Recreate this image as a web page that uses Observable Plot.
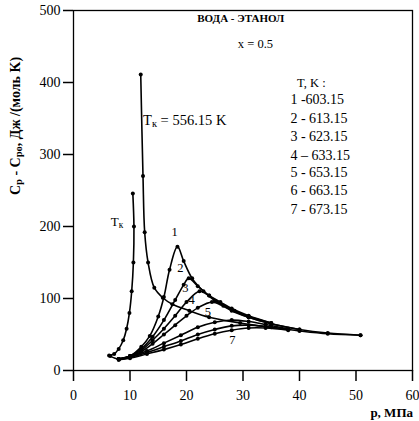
<!DOCTYPE html>
<html>
<head>
<meta charset="utf-8">
<script src="https://cdn.jsdelivr.net/npm/d3@7"></script>
<script src="https://cdn.jsdelivr.net/npm/@observablehq/plot@0.6"></script>
<style>
  html, body { margin: 0; padding: 0; background: #fff; }
  svg { font-family: "Liberation Serif", "Times New Roman", serif; }
</style>
</head>
<body>
<div id="chart"></div>
<script>
// ---- data (p in MPa, Cp - Cpo in J/(mol K)) ----
const xTicks = [0, 10, 20, 30, 40, 50, 60];
const yTicks = [0, 100, 200, 300, 400, 500];

const tkLeftP = [6.3, 7.2, 8.0, 8.8, 9.4, 9.9, 10.3, 10.6, 10.7, 10.5];
const tkLeftC = [21, 23, 30, 42, 58, 80, 110, 150, 200, 246];

const tkRightP = [11.9, 12.3, 12.6, 13.2, 14.3, 15.8, 17.5, 20.5, 24, 29.5, 35, 40, 45, 50.8];
const tkRightC = [411, 270, 192, 150, 115, 101, 92, 83, 74, 66, 60, 55, 51, 49];

const c1P = [6.5, 8, 10, 12, 13.5, 15, 16, 17, 18.4, 19.5, 21, 23, 25, 28, 31, 35, 40, 45, 50.8];
const c1C = [20, 16, 20, 33, 48, 75, 102, 140, 172, 152, 128, 110, 97, 83, 74, 65, 57, 52, 49];

const c2P = [8, 10, 12, 14, 16, 18, 19.5, 20.4, 22, 24, 26, 28, 31, 35, 40];
const c2C = [16, 20, 30, 47, 70, 98, 119, 128, 117, 104, 93, 84, 74, 65, 57];

const c3P = [8, 10, 12, 14, 16, 18, 20, 22.3, 24, 26, 28, 31, 35];
const c3C = [16, 20, 28, 42, 58, 76, 95, 110, 104, 95, 86, 76, 66];

const c4P = [8, 10, 12, 14, 16, 18, 20, 22, 24.5, 26.5, 28.5, 31, 35];
const c4C = [16, 19, 26, 37, 50, 63, 76, 87, 95, 90, 83, 75, 66];

const c5P = [8, 10, 13, 16, 19, 22, 25, 28, 31, 34, 38];
const c5C = [16, 19, 27, 38, 49, 60, 67, 70, 68, 64, 58];

const c6P = [8, 10, 13, 16, 19, 22, 25, 28, 31, 34, 38];
const c6C = [15, 18, 25, 33, 41, 50, 57, 62, 63, 61, 57];

const c7P = [8, 10, 13, 16, 19, 22, 25, 28, 31, 34, 38];
const c7C = [15, 17, 23, 29, 36, 44, 51, 56, 59, 59, 56];

const legendLines = ["1 -603.15", "2 - 613.15", "3 - 623.15", "4 – 633.15", "5 - 653.15", "6 - 663.15", "7 - 673.15"];
const curveLabels = ["1", "2", "3", "4", "5", "7"];

// ---- build table ----
const series = [
  ["TkL", tkLeftP, tkLeftC], ["TkR", tkRightP, tkRightC],
  ["1", c1P, c1C], ["2", c2P, c2C], ["3", c3P, c3C], ["4", c4P, c4C],
  ["5", c5P, c5C], ["6", c6P, c6C], ["7", c7P, c7C]
];
const rows = series.flatMap(([s, P, C]) => P.map((p, i) => ({s, p, c: C[i]})));

const legendRows = legendLines.map((t, i) => ({t, i}));
const legendY = [376, 350, 325, 299, 275, 250, 224];
const curveLabelPos = [[17.9, 193], [18.9, 142], [19.8, 115], [20.9, 98], [23.8, 81], [28.1, 42]];
const curveLabelRows = curveLabels.map((t, i) => ({t, x: curveLabelPos[i][0], y: curveLabelPos[i][1]}));

const plot = Plot.plot({
  width: 419,
  height: 421,
  marginLeft: 73,
  marginRight: 7,
  marginTop: 10,
  marginBottom: 51,
  style: {fontFamily: "Liberation Serif, serif", fontSize: "12px", color: "#000", background: "#fff"},
  x: {domain: [0, 60]},
  y: {domain: [0, 500]},
  marks: [
    Plot.frame({stroke: "#000", strokeWidth: 1.3}),
    Plot.axisX({ticks: xTicks, tickSize: 11, tickPadding: 9, label: null, fontSize: 14, strokeWidth: 1.5}),
    Plot.axisY({ticks: yTicks, tickSize: 10, tickPadding: 3, label: null, fontSize: 14, strokeWidth: 1.5}),
    Plot.line(rows, {x: "p", y: "c", z: "s", stroke: "#000", strokeWidth: 1.6, curve: "catmull-rom"}),
    Plot.dot(rows, {x: "p", y: "c", r: 2, fill: "#000"}),
    Plot.text(["ВОДА - ЭТАНОЛ"], {x: 29.6, y: 489, text: d => d, fontSize: 11, fontWeight: "bold", fill: "#000"}),
    Plot.text(["x = 0.5"], {x: 32.2, y: 454, text: d => d, fontSize: 12.5}),
    Plot.text(["T, K :"], {x: 42.1, y: 400, text: d => d, fontSize: 12.5}),
    Plot.text(legendRows, {x: 38.4, y: d => legendY[d.i], text: "t", textAnchor: "start", fontSize: 14}),
    Plot.text(curveLabelRows, {x: "x", y: "y", text: "t", fontSize: 12.5, fill: "#000"})
  ]
});

const svg = d3.select(plot);
const sx = plot.scale("x"), sy = plot.scale("y");

// y-axis title with subscripts
const yt = svg.append("text")
  .attr("transform", "translate(17,126) rotate(-90)")
  .attr("text-anchor", "middle")
  .attr("font-weight", "bold")
  .attr("font-size", 14)
  .attr("fill", "#000")
  .attr("dominant-baseline", "middle");
yt.append("tspan").text("C");
yt.append("tspan").attr("font-size", 10.5).attr("dy", 3).text("p");
yt.append("tspan").attr("dy", -3).text(" - C");
yt.append("tspan").attr("font-size", 10.5).attr("dy", 3).text("po");
yt.append("tspan").attr("dy", -3).text(", Дж /(моль K)");

// x-axis title
svg.append("text")
  .attr("x", 413).attr("y", 417)
  .attr("text-anchor", "end")
  .attr("font-size", 13)
  .attr("font-weight", "bold")
  .attr("fill", "#000")
  .text("p, МПа");

// T_k annotations
function tk(x, y, rest, size) {
  const t = svg.append("text")
    .attr("x", sx.apply(x)).attr("y", sy.apply(y))
    .attr("text-anchor", "start")
    .attr("font-size", size)
    .attr("fill", "#000")
    .attr("dominant-baseline", "middle");
  t.append("tspan").text("T");
  t.append("tspan").attr("font-size", size * 0.72).attr("dy", 3).text("к");
  if (rest) t.append("tspan").attr("dy", -3).text(rest);
}
tk(12.4, 344, " = 556.15 K", 14.5);
tk(6.7, 204, "", 13);

document.getElementById("chart").appendChild(plot);
</script>
</body>
</html>
